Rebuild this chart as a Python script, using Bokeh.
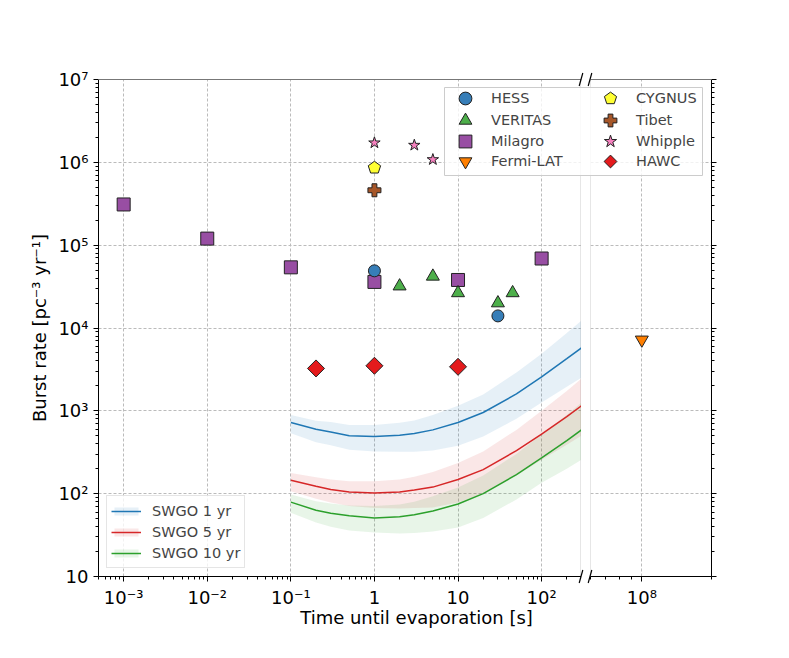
import math
from bokeh.plotting import figure
from bokeh.models import (Range1d, FixedTicker, CustomJSTickFormatter, Legend,
                          LegendItem, GridBox)
from bokeh.layouts import row
from bokeh.core.properties import value
from bokeh.embed import file_html
from bokeh.resources import INLINE

# ---------------- data ----------------
swgo_t = [0.1, 0.2, 0.3, 0.5, 1, 2, 3, 5, 10, 20, 50, 100, 200, 300]
swgo1_mid = [724, 600, 556, 501, 490, 507, 531, 589, 724, 955, 1600, 2570, 4270, 5750]
swgo1_hi = [891, 759, 733, 676, 676, 716, 767, 891, 1150, 1580, 2900, 4900, 8710, 12300]
swgo1_lo = [537, 417, 385, 339, 324, 320, 320, 331, 380, 490, 800, 1260, 1950, 2510]
swgo5_mid = [145, 123, 112, 105, 102, 105, 111, 120, 148, 195, 331, 525, 851, 1150]
swgo5_hi = [178, 158, 148, 141, 141, 148, 160, 182, 234, 324, 589, 1000, 1740, 2450]
swgo5_lo = [107, 87, 78, 71, 67, 66, 67, 68, 78, 100, 166, 257, 389, 501]
swgo10_mid = [79, 63, 58, 54, 51, 52.5, 55.6, 61.7, 75, 100, 170, 270, 437, 589]
swgo10_hi = [98, 81, 76, 72, 71, 74, 80, 93, 119, 166, 302, 520, 891, 1260]
swgo10_lo = [59, 45, 40, 36, 34, 33, 33.5, 35, 39, 51, 85, 135, 200, 257]

hess_t = [1, 30]
hess_r = [4.9e4, 1.4e4]
veritas_t = [2, 5, 10, 30, 45]
veritas_r = [3.2e4, 4.2e4, 2.65e4, 2.0e4, 2.65e4]
milagro_t = [1e-3, 1e-2, 0.1, 1, 10, 100]
milagro_r = [3.1e5, 1.2e5, 5.4e4, 3.6e4, 3.8e4, 6.9e4]
fermi_t = [1e8]
fermi_r = [7.2e3]
cygnus_t = [1]
cygnus_r = [8.6e5]
tibet_t = [1]
tibet_r = [4.6e5]
whipple_t = [1, 3, 5]
whipple_r = [1.72e6, 1.61e6, 1.08e6]
hawc_t = [0.2, 1, 10]
hawc_r = [3.25e3, 3.5e3, 3.4e3]

x_ticks = [1e-3, 1e-2, 1e-1, 1, 10, 100]
x_tick_labels = ["10\u207b\u00b3", "10\u207b\u00b2", "10\u207b\u00b9", "1", "10", "10\u00b2"]
x2_ticks = [1e8]
x2_tick_labels = ["10\u2078"]
y_ticks = [10, 1e2, 1e3, 1e4, 1e5, 1e6, 1e7]
y_tick_labels = ["10", "10\u00b2", "10\u00b3", "10\u2074", "10\u2075", "10\u2076", "10\u2077"]

# ---------------- styling ----------------
FONT = "DejaVu Sans"
C_BLUE, C_RED, C_GREEN = "#1f77b4", "#d62728", "#2ca02c"
EDGE = "#222222"
GRID = "#bbbbbb"

JS = """
const lt = Math.log10(tick);
let best = 0, bd = 1e9;
for (let i = 0; i < tv.length; i++) {
  const d = Math.abs(lt - Math.log10(tv[i]));
  if (d < bd) { bd = d; best = i; }
}
return tl[best];
"""


def minor_list(lo_exp, hi_exp, lo, hi):
    out = []
    for e in range(lo_exp, hi_exp + 1):
        for k in range(2, 10):
            v = k * 10.0 ** e
            if lo <= v <= hi:
                out.append(v)
    return out


def style_axis(ax):
    ax.axis_line_color = "black"
    ax.axis_line_width = 1
    ax.major_tick_line_color = "black"
    ax.minor_tick_line_color = "black"
    ax.major_tick_in = 0
    ax.major_tick_out = 5
    ax.minor_tick_in = 0
    ax.minor_tick_out = 3
    ax.major_label_text_font = FONT
    ax.major_label_text_font_size = "18px"
    ax.major_label_text_color = "black"
    ax.axis_label_text_font = FONT
    ax.axis_label_text_font_size = "18px"
    ax.axis_label_text_font_style = "normal"
    ax.axis_label_text_color = "black"


def style_grid(p):
    for g in (p.xgrid[0], p.ygrid[0]):
        g.grid_line_color = GRID
        g.grid_line_dash = "3 2"
        g.grid_line_width = 1


yr = Range1d(10, 1e7)
FH = 497
TOP = 79
BOT = 60
LEFT = 98

p1 = figure(title=None, x_axis_type="log", y_axis_type="log",
            x_range=Range1d(5e-4, 300), y_range=yr,
            frame_width=483, frame_height=FH,
            min_border_left=LEFT, min_border_right=0,
            min_border_top=TOP, min_border_bottom=BOT,
            toolbar_location=None, output_backend="svg",
            outline_line_color="#e6e6e6")
style_grid(p1)
xa = p1.xaxis[0]
ya = p1.yaxis[0]
style_axis(xa)
style_axis(ya)
xa.ticker = FixedTicker(ticks=x_ticks, minor_ticks=minor_list(-4, 2, 5e-4, 300))
xa.formatter = CustomJSTickFormatter(args=dict(tv=x_ticks, tl=x_tick_labels), code=JS)
ya.ticker = FixedTicker(ticks=y_ticks, minor_ticks=minor_list(1, 6, 10, 1e7))
ya.formatter = CustomJSTickFormatter(args=dict(tv=y_ticks, tl=y_tick_labels), code=JS)
ya.axis_label = "Burst rate [pc\u207b\u00b3 yr\u207b\u00b9]"

# SWGO bands + lines
b1 = p1.varea(x=swgo_t, y1=swgo1_lo, y2=swgo1_hi, fill_color=C_BLUE, fill_alpha=0.11)
b5 = p1.varea(x=swgo_t, y1=swgo5_lo, y2=swgo5_hi, fill_color=C_RED, fill_alpha=0.11)
b10 = p1.varea(x=swgo_t, y1=swgo10_lo, y2=swgo10_hi, fill_color=C_GREEN, fill_alpha=0.11)
l1 = p1.line(x=swgo_t, y=swgo1_mid, line_color=C_BLUE, line_width=1.5)
l5 = p1.line(x=swgo_t, y=swgo5_mid, line_color=C_RED, line_width=1.5)
l10 = p1.line(x=swgo_t, y=swgo10_mid, line_color=C_GREEN, line_width=1.5)

MK = dict(line_color=EDGE, line_width=1)
STY = {
    "HESS": dict(marker="circle", size=12, fill_color="#377eb8"),
    "VERITAS": dict(marker="triangle", size=13, fill_color="#4daf4a"),
    "Milagro": dict(marker="square", size=13, fill_color="#984ea3"),
    "Fermi-LAT": dict(marker="inverted_triangle", size=13, fill_color="#ff7f00"),
    "Tibet": dict(marker="plus", size=13, fill_color="#a65628"),
    "Whipple": dict(marker="star", size=12, fill_color="#f781bf"),
}


def draw_ngon(fig, xs, ys, n, r, color):
    try:
        return fig.ngon(x=xs, y=ys, radius=r, radius_units="screen", n=n,
                        fill_color=color, **MK)
    except Exception:
        mk = "hex" if n == 5 else "diamond"
        return fig.scatter(x=xs, y=ys, marker=mk, size=2 * r, fill_color=color, **MK)


p1.scatter(x=milagro_t, y=milagro_r, **STY["Milagro"], **MK)
p1.scatter(x=hess_t, y=hess_r, **STY["HESS"], **MK)
p1.scatter(x=veritas_t, y=veritas_r, **STY["VERITAS"], **MK)
draw_ngon(p1, cygnus_t, cygnus_r, 5, 6.5, "#ffff33")
p1.scatter(x=tibet_t, y=tibet_r, **STY["Tibet"], **MK)
p1.scatter(x=whipple_t, y=whipple_r, **STY["Whipple"], **MK)
draw_ngon(p1, hawc_t, hawc_r, 4, 8.5, "#e41a1c")

leg_s = Legend(items=[LegendItem(label="SWGO 1 yr", renderers=[b1, l1]),
                      LegendItem(label="SWGO 5 yr", renderers=[b5, l5]),
                      LegendItem(label="SWGO 10 yr", renderers=[b10, l10])],
               location=(8, 8), padding=4, spacing=0, margin=0,
               glyph_width=30, glyph_height=10, label_height=21,
               label_standoff=11, label_text_font=FONT,
               label_text_font_size="14.5px",
               background_fill_alpha=0.8, border_line_color="#cccccc")
p1.add_layout(leg_s)

# right panel
p2 = figure(title=None, x_axis_type="log", y_axis_type="log",
            x_range=Range1d(6e7, 2e8), y_range=yr, y_axis_location="right",
            frame_width=121, frame_height=FH,
            min_border_left=9, min_border_right=40,
            min_border_top=TOP, min_border_bottom=BOT,
            toolbar_location=None, output_backend="svg",
            outline_line_color="#e6e6e6")
style_grid(p2)
xb = p2.xaxis[0]
yb = p2.yaxis[0]
style_axis(xb)
style_axis(yb)
xb.ticker = FixedTicker(ticks=x2_ticks, minor_ticks=[6e7, 7e7, 8e7, 9e7, 2e8])
xb.formatter = CustomJSTickFormatter(args=dict(tv=x2_ticks, tl=x2_tick_labels), code=JS)
yb.ticker = FixedTicker(ticks=y_ticks, minor_ticks=minor_list(1, 6, 10, 1e7))
yb.formatter = CustomJSTickFormatter(code='return "";')
p2.scatter(x=fermi_t, y=fermi_r, **STY["Fermi-LAT"], **MK)

# overlay (legend spanning both panels, x label, break marks); page pixel coords
W = LEFT + 483 + 170
H = TOP + FH + BOT
ov = figure(title=None, frame_width=W, frame_height=H, min_border=0,
            x_range=Range1d(0, W), y_range=Range1d(H, 0),
            x_axis_location=None, y_axis_location=None,
            toolbar_location=None, output_backend="svg",
            background_fill_color=None, border_fill_color=None,
            outline_line_color=None)
ov.xgrid.visible = False
ov.ygrid.visible = False
# top spines (gray)
ov.segment(x0=[98, 590], y0=[79, 79], x1=[580.7, 711], y1=[79, 79],
           line_color="#777777", line_width=1)
# break marks
bx = [580.5, 589.5, 580.5, 589.5]
by = [79, 79, 576, 576]
ov.segment(x0=[v - 1.8 for v in bx], y0=[v + 6.5 for v in by],
           x1=[v + 1.8 for v in bx], y1=[v - 6.5 for v in by],
           line_color="black", line_width=1.2)
# x axis label
ov.text(x=[416], y=[616.7], text=["Time until evaporation [s]"],
        text_align="center", text_baseline="alphabetic",
        text_font=value(FONT), text_font_size="18px", text_color="black")
# legend frame
ov.quad(left=[444], right=[702], top=[87], bottom=[175],
        fill_color="white", fill_alpha=0.8, line_color="#cccccc", line_width=1)

# legend renderers share the data (all of it falls outside the overlay's pixel range)
r_hess = ov.scatter(x=hess_t, y=hess_r, **STY["HESS"], **MK)
r_ver = ov.scatter(x=veritas_t, y=veritas_r, **STY["VERITAS"], **MK)
r_mil = ov.scatter(x=milagro_t, y=milagro_r, **STY["Milagro"], **MK)
r_fer = ov.scatter(x=fermi_t, y=fermi_r, **STY["Fermi-LAT"], **MK)
r_cyg = draw_ngon(ov, cygnus_t, cygnus_r, 5, 6.5, "#ffff33")
r_tib = ov.scatter(x=tibet_t, y=tibet_r, **STY["Tibet"], **MK)
r_whi = ov.scatter(x=whipple_t, y=whipple_r, **STY["Whipple"], **MK)
r_haw = draw_ngon(ov, hawc_t, hawc_r, 4, 8.5, "#e41a1c")

LEGKW = dict(padding=0, spacing=0, margin=0, glyph_width=32, glyph_height=32,
             label_height=32, label_standoff=10, label_text_font=FONT,
             label_text_font_size="14.5px", background_fill_alpha=0,
             border_line_color=None)
row_y = [98.3, 120.0, 140.7, 161.3]
col1 = [("HESS", r_hess), ("VERITAS", r_ver), ("Milagro", r_mil), ("Fermi-LAT", r_fer)]
col2 = [("CYGNUS", r_cyg), ("Tibet", r_tib), ("Whipple", r_whi), ("HAWC", r_haw)]
for gx, col in ((449, col1), (594, col2)):
    for cy, (lab, rr) in zip(row_y, col):
        lg = Legend(items=[LegendItem(label=lab, renderers=[rr])],
                    location=(gx, H - (cy + 16)), **LEGKW)
        ov.add_layout(lg)

layout = GridBox(children=[(row(p1, p2), 0, 0), (ov, 0, 0)])

with open("out.html", "w", encoding="utf-8") as f:
    f.write(file_html(layout, INLINE, title="Burst rate"))
